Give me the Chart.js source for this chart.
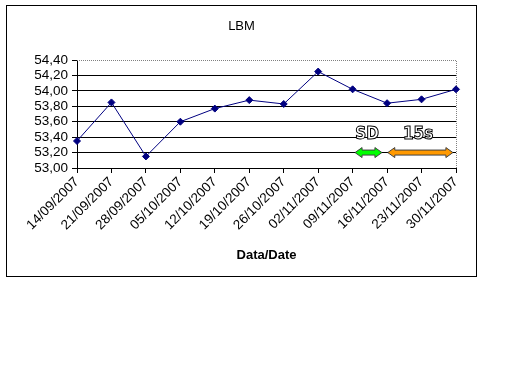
<!DOCTYPE html>
<html><head><meta charset="utf-8">
<script src="https://cdn.jsdelivr.net/npm/chart.js@4/dist/chart.umd.min.js"></script>
<style>
html,body{margin:0;padding:0;background:#fff;}
#box{position:absolute;left:6px;top:5px;width:469px;height:270px;border:1px solid #000;background:#fff;}
canvas{display:block;}
</style></head><body>
<div id="box"><canvas id="c" width="469" height="270"></canvas></div>
<script>
const chartTitle = 'LBM';
const xAxisTitle = 'Data/Date';
const categories = ['14/09/2007','21/09/2007','28/09/2007','05/10/2007','12/10/2007','19/10/2007','26/10/2007','02/11/2007','09/11/2007','16/11/2007','23/11/2007','30/11/2007'];
const values = [53.35, 53.85, 53.15, 53.60, 53.77, 53.88, 53.83, 54.25, 54.02, 53.84, 53.89, 54.02];
const yTickValues = [53.00, 53.20, 53.40, 53.60, 53.80, 54.00, 54.20, 54.40];
// annotation arrows (in category-index / value units)
const arrowLabels = ['SD', '15s'];
const arrowStart = [8.07, 9.02];
const arrowEnd = [8.85, 10.91];
const arrowLabelAt = [8.42, 9.9];
const arrowValue = 53.20;
const arrowLabelValue = 53.43;
const arrowColors = ['#00FF00', '#FF9900'];

const FONT = '"Liberation Sans", Arial, sans-serif';

const plotFrame = {
  id: 'plotFrame',
  beforeDatasetsDraw(chart) {
    const {ctx, chartArea: a} = chart;
    ctx.save();
    ctx.strokeStyle = '#808080';
    ctx.lineWidth = 1;
    ctx.setLineDash([1, 1]);
    ctx.beginPath();
    ctx.moveTo(a.left, a.top + 0.5);
    ctx.lineTo(a.right + 0.5, a.top + 0.5);
    ctx.lineTo(a.right + 0.5, a.bottom);
    ctx.stroke();
    ctx.restore();
  }
};

const arrowPlugin = {
  id: 'arrowPlugin',
  afterDatasetsDraw(chart) {
    const {ctx, scales: {x, y}} = chart;
    ctx.save();
    const yy = y.getPixelForValue(arrowValue);
    const ly = y.getPixelForValue(arrowLabelValue);
    for (let i = 0; i < arrowLabels.length; i++) {
      const x1 = x.getPixelForValue(arrowStart[i]);
      const x2 = x.getPixelForValue(arrowEnd[i]);
      const h = 7, hh = 5, sh = 2.5;
      ctx.beginPath();
      ctx.moveTo(x1, yy);
      ctx.lineTo(x1 + h, yy - hh);
      ctx.lineTo(x1 + h, yy - sh);
      ctx.lineTo(x2 - h, yy - sh);
      ctx.lineTo(x2 - h, yy - hh);
      ctx.lineTo(x2, yy);
      ctx.lineTo(x2 - h, yy + hh);
      ctx.lineTo(x2 - h, yy + sh);
      ctx.lineTo(x1 + h, yy + sh);
      ctx.lineTo(x1 + h, yy + hh);
      ctx.closePath();
      ctx.fillStyle = arrowColors[i];
      ctx.fill();
      ctx.strokeStyle = '#404040';
      ctx.lineWidth = 1;
      ctx.stroke();

      ctx.font = 'bold 17px "DejaVu Sans Condensed", "DejaVu Sans", sans-serif';
      ctx.textAlign = 'center';
      ctx.textBaseline = 'middle';
      ctx.fillStyle = '#fff';
      ctx.strokeStyle = '#000';
      ctx.lineWidth = 1;
      const lx = x.getPixelForValue(arrowLabelAt[i]);
      ctx.fillText(arrowLabels[i], lx, ly);
      ctx.strokeText(arrowLabels[i], lx, ly);
    }
    ctx.restore();
  }
};

new Chart(document.getElementById('c'), {
  type: 'line',
  data: {
    labels: categories,
    datasets: [{
      data: values,
      borderColor: '#000080',
      backgroundColor: '#000080',
      borderWidth: 1,
      pointStyle: 'rectRot',
      pointRadius: 3.5,
      pointBorderWidth: 1,
      pointBackgroundColor: '#000080',
      pointBorderColor: '#000080',
      tension: 0,
      fill: false
    }]
  },
  options: {
    responsive: false,
    animation: false,
    devicePixelRatio: 1,
    layout: {padding: {left: 20, right: 20, top: 0, bottom: 8}},
    plugins: {
      legend: {display: false},
      tooltip: {enabled: false},
      title: {
        display: true,
        text: chartTitle,
        color: '#000',
        font: {family: FONT, size: 13, weight: 'normal'},
        padding: {top: 13, bottom: 25.4}
      }
    },
    scales: {
      x: {
        type: 'category',
        offset: false,
        grid: {drawOnChartArea: false, drawTicks: true, tickLength: 5, tickColor: '#000'},
        border: {display: true, color: '#000', width: 1},
        ticks: {
          color: '#000', font: {family: FONT, size: 13.5},
          minRotation: 45, maxRotation: 45, autoSkip: false, padding: 1
        },
        title: {
          display: true, text: xAxisTitle, color: '#000',
          font: {family: FONT, size: 13, weight: 'bold'},
          padding: {top: 4, bottom: 5}
        },
        afterFit(s) { s.height = 100; }
      },
      y: {
        min: 53, max: 54.4,
        afterBuildTicks(s) { s.ticks = yTickValues.map(v => ({value: v})); },
        grid: {
          color: c => (Math.abs(c.tick.value - 54.4) < 1e-6 ? 'rgba(0,0,0,0)' : '#000'),
          tickColor: '#000', tickLength: 5, lineWidth: 1
        },
        border: {display: true, color: '#000', width: 1},
        ticks: {
          color: '#000', font: {family: FONT, size: 13.5}, padding: 4, autoSkip: false,
          callback: v => Number(v).toFixed(2).replace('.', ',')
        },
        afterFit(s) { s.width = 50; }
      }
    }
  },
  plugins: [plotFrame, arrowPlugin]
});
</script>
</body></html>
